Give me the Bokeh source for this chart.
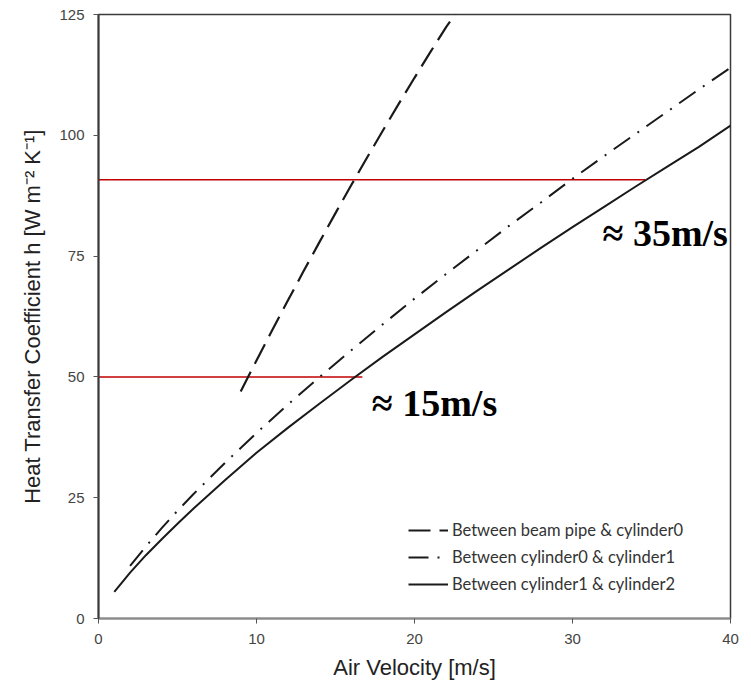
from bokeh.plotting import figure
from bokeh.models import Range1d, FixedTicker, Legend, LegendItem, ColumnDataSource
from bokeh.core.properties import value
from bokeh.embed import file_html
from bokeh.resources import INLINE

# ---- data ----
v_beam = [9, 10, 11, 12, 13, 14, 15, 16, 17, 18, 19, 20, 21, 22, 22.8]
h_beam = [47.0, 53.4, 59.7, 65.9, 72.0, 78.0, 83.9, 89.7, 95.4, 101.0, 106.5, 111.9, 117.2, 122.4, 126.0]

v_c01 = [2, 3, 4, 5, 6, 8, 10, 12, 14, 16, 18, 20, 22, 24, 26, 28, 30, 32, 34, 36, 38, 40]
h_c01 = [10.9, 14.9, 18.7, 22.3, 25.7, 32.2, 38.4, 44.3, 50.0, 55.5, 60.9, 66.2, 71.3, 76.3,
         81.3, 86.1, 91.0, 95.7, 100.3, 104.9, 109.5, 114.0]

v_c12 = [1, 2, 3, 4, 5, 6, 8, 10, 12, 14, 16, 18, 20, 22, 24, 26, 28, 30, 32, 34, 36, 38, 40]
h_c12 = [5.5, 9.5, 13.1, 16.4, 19.6, 22.7, 28.6, 34.3, 39.5, 44.5, 49.4, 54.2, 58.8, 63.4,
         67.9, 72.3, 76.7, 81.0, 85.2, 89.4, 93.5, 97.6, 102.0]

series_labels = ["Between beam pipe & cylinder0",
                 "Between cylinder0 & cylinder1",
                 "Between cylinder1 & cylinder2"]

ref_h = [50, 90.8]          # red reference levels
ref_v_end = [16.7, 34.6]    # where they meet the cylinder1-cylinder2 curve
ann_text = ["\u2248 15m/s", "\u2248 35m/s"]
ann_v = [17.3, 31.9]
ann_h = [44.5, 79.7]

x_ticks = [0, 10, 20, 30, 40]
y_ticks = [0, 25, 50, 75, 100, 125]

# ---- figure ----
p = figure(width=748, height=688, output_backend="svg", toolbar_location=None,
           x_range=Range1d(0, 40), y_range=Range1d(0, 125),
           frame_width=632, frame_height=604,
           min_border_left=98, min_border_right=18, min_border_top=14, min_border_bottom=70)
p.background_fill_color = "white"
p.border_fill_color = "white"
p.outline_line_color = "#3a3a3a"
p.outline_line_width = 1.5
p.xgrid.visible = False
p.ygrid.visible = False

for ax in (p.xaxis[0], p.yaxis[0]):
    ax.major_label_text_font = "Liberation Sans"
    ax.major_label_text_font_size = "15px"
    ax.major_label_text_color = "#444444"
    ax.axis_label_text_font = "Liberation Sans"
    ax.axis_label_text_font_size = "22px"
    ax.axis_label_text_font_style = "normal"
    ax.axis_label_text_color = "#222222"
    ax.minor_tick_line_color = None
    ax.major_tick_in = 0
    ax.major_tick_out = 5
    ax.major_tick_line_color = "#555555"

p.xaxis.ticker = FixedTicker(ticks=x_ticks)
p.yaxis.ticker = FixedTicker(ticks=y_ticks)
p.xaxis.axis_label = "Air Velocity [m/s]"
p.yaxis.axis_label = "Heat Transfer Coefficient h [W m\u207b\u00b2 K\u207b\u00b9]"
p.yaxis.axis_line_color = "#3a3a3a"
p.yaxis.axis_line_width = 2
p.xaxis.axis_line_color = "#8a8a8a"
p.xaxis.axis_line_width = 2
p.xaxis.major_label_standoff = 10
p.yaxis.major_label_standoff = 9
p.xaxis.axis_label_standoff = 8
p.yaxis.axis_label_standoff = 11

# red reference lines
src_ref = ColumnDataSource(dict(x0=[0] * len(ref_h), x1=ref_v_end, y=ref_h))
p.segment(x0="x0", y0="y", x1="x1", y1="y", source=src_ref, line_color="#c00000", line_width=1.5)

r1 = p.line(v_beam, h_beam, line_color="#1a1a1a", line_width=2.2, line_dash="22 9")
r2 = p.line(v_c01, h_c01, line_color="#1a1a1a", line_width=2, line_dash="20 9 2 9")
r3 = p.line(v_c12, h_c12, line_color="#1a1a1a", line_width=2)

src_ann = ColumnDataSource(dict(x=ann_v, y=ann_h, t=ann_text))
p.text(x="x", y="y", text="t", source=src_ann, text_font=value("Liberation Serif"),
       text_font_style="bold", text_font_size="38px", text_color="black",
       text_baseline="alphabetic", text_align="left")

legend = Legend(items=[LegendItem(label=series_labels[0], renderers=[r1]),
                       LegendItem(label=series_labels[1], renderers=[r2]),
                       LegendItem(label=series_labels[2], renderers=[r3])],
                location=(310, 24))
legend.border_line_color = None
legend.background_fill_alpha = 0
legend.label_text_font = "Lato"
legend.label_text_font_size = "16.5px"
legend.label_text_color = "#333333"
legend.glyph_width = 40
legend.glyph_height = 20
legend.label_height = 20
legend.label_standoff = 4
legend.spacing = 7
legend.padding = 0
legend.margin = 0
p.add_layout(legend)

open("out.html", "w").write(file_html(p, INLINE))
